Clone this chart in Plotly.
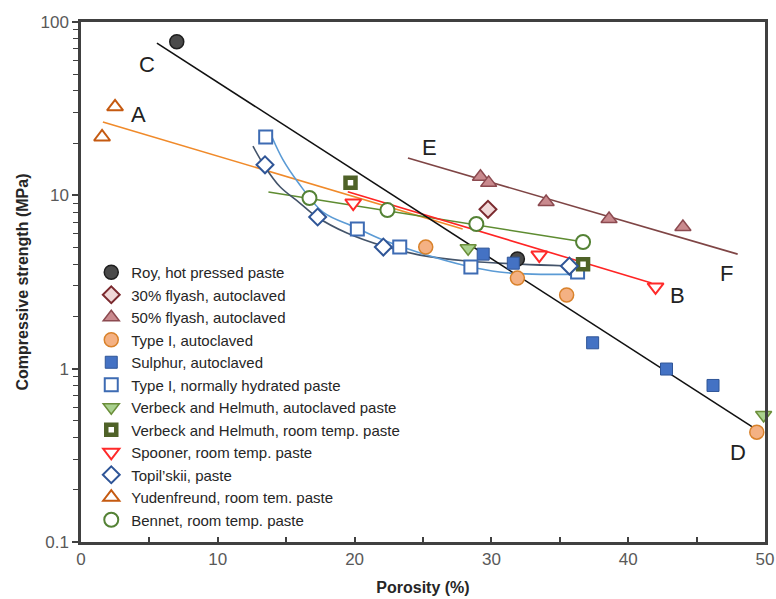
import math
import plotly.graph_objects as go

# ---------------- data (porosity %, compressive strength MPa) ----------------
roy_x = [7.0, 31.9]
roy_y = [76.9, 4.29]
fly30_x = [29.75]
fly30_y = [8.3]
fly50_x = [29.2, 29.8, 34.0, 38.6, 44.0]
fly50_y = [12.8, 11.8, 9.15, 7.3, 6.56]
type1_auto_x = [25.2, 31.9, 35.5, 49.4]
type1_auto_y = [5.03, 3.33, 2.66, 0.43]
sulphur_x = [29.4, 31.6, 37.4, 42.8, 46.2]
sulphur_y = [4.58, 4.06, 1.41, 0.995, 0.80]
type1_norm_x = [13.5, 20.2, 23.3, 28.5, 36.3]
type1_norm_y = [21.7, 6.39, 5.03, 3.86, 3.61]
verb_auto_x = [28.3, 49.9]
verb_auto_y = [4.95, 0.54]
verb_room_x = [19.7, 36.7]
verb_room_y = [11.8, 4.0]
spooner_x = [19.9, 33.5, 42.0]
spooner_y = [9.03, 4.52, 2.96]
topil_x = [13.45, 17.3, 22.1, 35.7]
topil_y = [15.0, 7.5, 5.03, 3.91]
yuden_x = [1.54, 2.49]
yuden_y = [21.7, 32.4]
bennet_x = [16.7, 22.4, 28.9, 36.7]
bennet_y = [9.65, 8.22, 6.83, 5.38]

# fitted trend lines
line_cd_x = [5.55, 49.1]
line_cd_y = [75.6, 0.46]
line_a_x = [1.6, 27.9]
line_a_y = [26.5, 6.4]
line_e_x = [23.9, 48.0]
line_e_y = [16.4, 4.58]
line_b_x = [19.5, 41.7]
line_b_y = [10.5, 3.12]
line_green_x = [13.7, 36.3]
line_green_y = [10.45, 5.45]
curve_type1_x = [13.96, 14.77, 15.86, 17.69, 20.0, 22.1, 24.8, 28.2, 30.6, 33.0, 36.5]
curve_type1_y = [21.7, 16.0, 11.9, 8.0, 6.57, 5.52, 4.65, 3.91, 3.61, 3.51, 3.51]
curve_topil_x = [12.57, 13.45, 14.55, 16.0, 17.25, 19.44, 22.08, 24.78, 28.2, 32.1, 35.6]
curve_topil_y = [19.2, 14.6, 11.2, 9.03, 7.5, 6.06, 5.1, 4.52, 4.18, 4.01, 3.91]

line_labels = ["A", "B", "C", "D", "E", "F"]
line_label_x = [4.17, 43.6, 4.82, 48.0, 25.5, 47.2]
line_label_y = [29.4, 2.66, 56.5, 0.33, 19.0, 3.56]

y_tickvals = [0.1, 1, 10, 100]
y_ticktext = ["0.1", "1", "10", "100"]
y_minor = [m * d for d in (0.1, 1, 10) for m in range(2, 10)]

fig = go.Figure()

# trend lines first (under markers)
for lx, ly, col, shape in [
    (line_a_x, line_a_y, "#f08a2a", "linear"),
    (line_green_x, line_green_y, "#5e8c31", "linear"),
    (line_e_x, line_e_y, "#7f4545", "linear"),
    (line_b_x, line_b_y, "#ff2424", "linear"),
    (curve_topil_x, curve_topil_y, "#44546a", "spline"),
    (curve_type1_x, curve_type1_y, "#5b9bd5", "spline"),
    (line_cd_x, line_cd_y, "#111111", "linear"),
]:
    fig.add_trace(go.Scatter(x=lx, y=ly, mode="lines", showlegend=False,
                             hoverinfo="skip",
                             line=dict(color=col, width=1.6, shape=shape)))

series = [
    ("Roy, hot pressed paste", roy_x, roy_y, "circle", "#4a4a4a", "#1e1e1e", 1.5, 14),
    ("30% flyash, autoclaved", fly30_x, fly30_y, "diamond", "#f0d8d8", "#7b2a2f", 2, 13),
    ("50% flyash, autoclaved", fly50_x, fly50_y, "triangle-up", "#c98a8e", "#8c4a50", 1.5, 14),
    ("Type I, autoclaved", type1_auto_x, type1_auto_y, "circle", "#f4b183", "#d9822b", 1.5, 14),
    ("Sulphur, autoclaved", sulphur_x, sulphur_y, "square", "#4472c4", "#2f5597", 1, 12),
    ("Type I, normally hydrated paste", type1_norm_x, type1_norm_y, "square", "white", "#3d6bb3", 2, 13),
    ("Verbeck and Helmuth, autoclaved paste", verb_auto_x, verb_auto_y, "triangle-down", "#a9d18e", "#6b8e3a", 1.5, 14),
    ("Verbeck and Helmuth, room temp. paste", verb_room_x, verb_room_y, "square", "white", "#4f6228", 4.5, 10),
    ("Spooner, room temp. paste", spooner_x, spooner_y, "triangle-down", "white", "#ff2a2a", 2, 14),
    ("Topil\u2019skii, paste", topil_x, topil_y, "diamond", "white", "#2f5597", 2, 13),
    ("Yudenfreund, room tem. paste", yuden_x, yuden_y, "triangle-up", "white", "#c55a11", 2, 14),
    ("Bennet, room temp. paste", bennet_x, bennet_y, "circle", "white", "#548235", 2, 14),
]
for name, sx, sy, sym, fill, edge, lw, size in series:
    fig.add_trace(go.Scatter(
        x=sx, y=sy, mode="markers", name=name, cliponaxis=False,
        marker=dict(symbol=sym, size=size, color=fill,
                    line=dict(color=edge, width=lw))))

# curve labels (log axis: annotation y is given in log10 units)
for t, lx, ly in zip(line_labels, line_label_x, line_label_y):
    fig.add_annotation(x=lx, y=math.log10(ly), yref="y", xref="x", text=t,
                       showarrow=False,
                       font=dict(family="Liberation Sans, Arial, sans-serif",
                                 size=22, color="#222222"))

axis_col = "#404040"
tick_font = dict(family="Liberation Sans, Arial, sans-serif", size=17, color="#595959")
title_font = dict(family="Liberation Sans, Arial, sans-serif", size=16, color="#262626",
                  weight="bold")

fig.update_xaxes(range=[0, 50], tickvals=[0, 10, 20, 30, 40, 50],
                 ticks="inside", ticklen=5, tickwidth=1.5, tickcolor=axis_col,
                 minor=dict(tickvals=[5, 15, 25, 35, 45], ticks="inside", ticklen=5,
                            tickwidth=1.5, tickcolor=axis_col),
                 showline=True, linecolor=axis_col, linewidth=2.5, mirror=True,
                 showgrid=False, zeroline=False, tickfont=tick_font,
                 title=dict(text="Porosity (%)", font=title_font, standoff=14))
fig.update_yaxes(type="log", range=[-1, 2], tickvals=y_tickvals, ticktext=y_ticktext,
                 ticks="outside", ticklen=6, tickwidth=1.5, tickcolor=axis_col,
                 minor=dict(tickvals=y_minor, ticks="outside", ticklen=5,
                            tickwidth=1.2, tickcolor=axis_col),
                 showline=True, linecolor=axis_col, linewidth=2.5, mirror=True,
                 showgrid=False, zeroline=False, tickfont=tick_font,
                 title=dict(text="Compressive strength (MPa)", font=title_font, standoff=8))

fig.update_layout(
    width=776, height=599,
    margin=dict(l=81, r=11, t=22, b=57, autoexpand=False),
    plot_bgcolor="white", paper_bgcolor="white",
    legend=dict(x=0.015, y=0.55, xanchor="left", yanchor="top",
                bgcolor="rgba(0,0,0,0)", itemwidth=30,
                font=dict(family="Liberation Sans, Arial, sans-serif", size=15,
                          color="#262626"),
                tracegroupgap=0),
)

fig.write_html("out.html")
